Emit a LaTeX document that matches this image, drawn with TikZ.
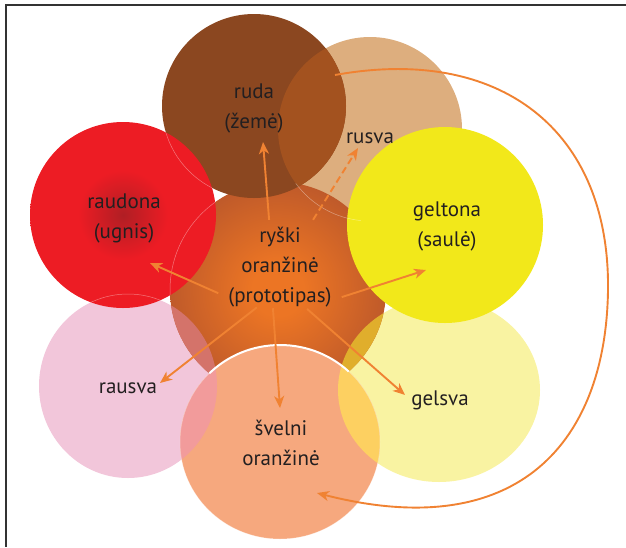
\documentclass[tikz,border=0pt]{standalone}
\usepackage{fontspec}
\setmainfont{PT Sans}
\usetikzlibrary{arrows.meta}

\definecolor{tanc}{RGB}{221,174,126}
\definecolor{brownc}{RGB}{139,71,32}
\definecolor{browntan}{RGB}{163,82,31}
\definecolor{pinkc}{RGB}{242,198,218}
\definecolor{paleyel}{RGB}{249,243,162}
\definecolor{orglow}{RGB}{236,117,36}
\definecolor{oredge}{RGB}{191,90,42}
\definecolor{pinkorg}{RGB}{212,115,106}
\definecolor{yelorg}{RGB}{224,174,44}
\definecolor{redc}{RGB}{237,28,36}
\definecolor{reddark}{RGB}{176,30,36}
\definecolor{yelc}{RGB}{242,232,26}
\definecolor{softc}{RGB}{246,168,126}
\definecolor{softpink}{RGB}{242,155,155}
\definecolor{softyel}{RGB}{253,208,97}
\definecolor{arrc}{RGB}{240,130,50}
\definecolor{textc}{RGB}{35,31,32}

\pgfdeclareradialshading{centerglow}{\pgfpointorigin}{color(0bp)=(orglow); color(6bp)=(orglow); color(25bp)=(oredge); color(50bp)=(oredge)}
\pgfdeclareradialshading{redglow}{\pgfpointorigin}{color(0bp)=(reddark); color(12bp)=(redc); color(50bp)=(redc)}

\begin{document}
\begin{tikzpicture}[x=1pt,y=-1pt,
    lbl/.style={font=\fontsize{21}{30}\selectfont, text=textc, align=center, inner sep=6pt},
    arr/.style={draw=arrc, line width=1.9pt, -{Stealth[length=12pt,width=10pt,inset=3.5pt]}},
    faint/.style={draw=white, line width=0.5pt, opacity=0.4}]
  \useasboundingbox (0,0) rectangle (626,547);
  % circle centres
  \coordinate (tanC) at (370,129);
  \coordinate (brownC) at (254,106);
  \coordinate (redC) at (123,215);
  \coordinate (yelC) at (445,225);
  \coordinate (pinkC) at (128,386);
  \coordinate (paleC) at (439,390);
  \coordinate (softC) at (280,442);
  \coordinate (midC) at (278,290);

  % circles, bottom to top
  \fill[tanc] (tanC) circle (92pt);
  \fill[pinkc] (pinkC) ellipse (89pt and 92pt);
  \fill[paleyel] (paleC) ellipse (101pt and 92pt);
  \shade[shading=centerglow] (midC) circle (108pt);
  \begin{scope}
    \clip (pinkC) ellipse (89pt and 92pt);
    \fill[pinkorg] (midC) circle (108pt);
  \end{scope}
  \begin{scope}
    \clip (paleC) ellipse (101pt and 92pt);
    \fill[yelorg] (midC) circle (108pt);
  \end{scope}
  \fill[brownc] (brownC) circle (92pt);
  \begin{scope}
    \clip (brownC) circle (92pt);
    \fill[browntan] (tanC) circle (92pt);
  \end{scope}
  \shade[shading=redglow] (redC) circle (93pt);
  \fill[yelc] (yelC) circle (98pt);
  \fill[softc] (softC) ellipse (100pt and 97pt);
  \begin{scope}
    \clip (softC) ellipse (100pt and 97pt);
    \fill[softpink] (pinkC) ellipse (89pt and 92pt);
    \fill[softyel] (paleC) ellipse (101pt and 92pt);
  \end{scope}

  % thin white rims
  \begin{scope}
    \clip (redC) circle (93pt);
    \draw[faint] (brownC) circle (92pt);
    \draw[faint] (midC) circle (108pt);
    \draw[faint] (pinkC) ellipse (89pt and 92pt);
  \end{scope}
  \begin{scope}
    \clip (midC) circle (108pt);
    \draw[faint] (tanC) circle (92pt);
    \draw[white, line width=2pt] (softC) ellipse (100pt and 97pt);
  \end{scope}
  \draw[faint] (softC) ellipse (100pt and 97pt);

  % frame
  \draw[black!80, line width=1.3pt] (626,5) -- (6,5) -- (6,547);

  % labels
  \node[lbl] (ruda) at (254,108) {ruda\\(žemė)};
  \node[lbl] (rusva) at (370,138) {rusva};
  \node[lbl] (raud) at (124,218) {raudona\\(ugnis)};
  \node[lbl] (gelt) at (447,226) {geltona\\(saulė)};
  \node[lbl, inner xsep=10pt, inner ysep=7pt] (proto) at (280,267) {ryški\\oranžinė\\(prototipas)};
  \node[lbl] (rausva) at (128,388) {rausva};
  \node[lbl] (gelsva) at (440,400) {gelsva};
  \node[lbl] (svelni) at (281,443) {švelni\\oranžinė};

  % arrow tips
  \coordinate (rudaTip) at (263,142);
  \coordinate (rusvaTip) at (358,148);
  \coordinate (raudTip) at (150,263);
  \coordinate (geltTip) at (426,270);
  \coordinate (rausvaTip) at (160,383);
  \coordinate (svelniTip) at (280,408);
  \coordinate (gelsvaTip) at (405,395);

  % arrows
  \draw[arr] (proto.103) -- (rudaTip);
  \draw[arr, dash pattern=on 7pt off 4pt] (proto.55) -- (rusvaTip);
  \draw[arr] (proto.203) -- (raudTip);
  \draw[arr] (proto.334) -- (geltTip);
  \draw[arr, shorten <=-11pt] (proto.236) -- (rausvaTip);
  \draw[arr, shorten <=-6pt] (proto.262) -- (svelniTip);
  \draw[arr, shorten <=-8pt] (proto.305) -- (gelsvaTip);

  % loop back
  \coordinate (loopstart) at (335,75);
  \coordinate (loopend) at (317,493);
  \draw[arr] (loopstart) .. controls (500,45) and (610,130) .. (608,290)
    .. controls (606,440) and (520,545) .. (loopend);
\end{tikzpicture}
\end{document}
